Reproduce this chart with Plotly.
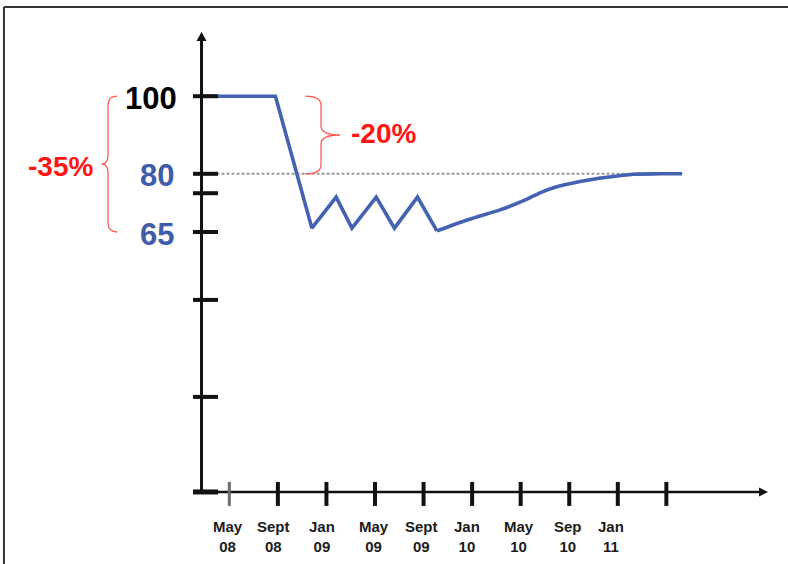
import plotly.graph_objects as go

# Index level over time, months counted from May 2008
months = [-2.2, 3.8, 6.8, 8.8, 10.1, 12.1, 13.6, 15.5, 17.1, 19.6, 22.3,
          24.2, 25.6, 26.7, 28.9, 31.1, 33.3, 35.5, 37.3]
index_values = [100, 100, 66, 74, 66, 74, 66, 74, 65.3, 68.1, 70.7,
                73.0, 75.1, 76.4, 78.0, 79.1, 79.9, 80, 80]
# the volatile phase is drawn with straight segments, the recovery smoothed
recovery_start = 8

x_tick_months = [0, 4, 8, 12, 16, 20, 24, 28, 32, 36]
x_tick_labels = ["May<br>08", "Sept<br>08", "Jan<br>09", "May<br>09", "Sept<br>09",
                 "Jan<br>10", "May<br>10", "Sep<br>10", "Jan<br>11", ""]

y_tick_values = [100, 80, 75, 65, 47.5, 22.5]
y_tick_labels = ["100", "80", "", "65", "", ""]

reference_level = 80
# (from, to, label) for the bracketed drops
drops = [(100, 65, "-35%"), (100, 80, "-20%")]

# ---- styling ----
W, H = 788, 564
X_RANGE = [-18.89, 46.02]
Y_RANGE = [-20.57, 124.8]
AXIS_X = -2.29      # month position of the vertical axis
AXIS_Y = -2.0       # index level of the horizontal axis
BLUE = "#4462B2"
LABEL_BLUE = "#3F5CAA"
RED = "#FF1414"
FONT = "Liberation Sans, Arial, sans-serif"

fig = go.Figure()

k = recovery_start
fig.add_trace(go.Scatter(
    x=months[:k + 1], y=index_values[:k + 1], mode="lines",
    line=dict(color=BLUE, width=3.6), hoverinfo="skip", showlegend=False,
))
fig.add_trace(go.Scatter(
    x=months[k:], y=index_values[k:], mode="lines",
    line=dict(color=BLUE, width=3.6, shape="spline", smoothing=0.8),
    hoverinfo="skip", showlegend=False,
))

shapes = []

# page frame (top and left edges)
shapes.append(dict(type="line", xref="paper", yref="paper", x0=0.005, x1=1, y0=1 - 7 / H, y1=1 - 7 / H,
                   line=dict(color="#333333", width=2)))
shapes.append(dict(type="line", xref="paper", yref="paper", x0=0.005, x1=0.005, y0=0, y1=1 - 7 / H,
                   line=dict(color="#333333", width=2)))

# dotted reference line at the recovery level
shapes.append(dict(type="line", xref="x", yref="y", x0=AXIS_X, x1=months[-1],
                   y0=reference_level, y1=reference_level, layer="below",
                   line=dict(color="#9a9a9a", width=2, dash="3px,2px")))

# axes
shapes.append(dict(type="line", xref="x", yref="y", x0=AXIS_X, x1=AXIS_X, y0=AXIS_Y, y1=116.0,
                   line=dict(color="#111111", width=3)))
shapes.append(dict(type="line", xref="x", yref="y", x0=-2.98, x1=43.8, y0=AXIS_Y, y1=AXIS_Y,
                   line=dict(color="#111111", width=2.6)))
# arrowheads
shapes.append(dict(type="path", xref="x", yref="y", xsizemode="pixel", ysizemode="pixel",
                   xanchor=AXIS_X, yanchor=Y_RANGE[1],
                   path="M0,-32 L5,-41 L-5,-41 Z", fillcolor="#111111", line=dict(width=0)))
shapes.append(dict(type="path", xref="x", yref="y", xsizemode="pixel", ysizemode="pixel",
                   xanchor=43.8, yanchor=AXIS_Y,
                   path="M7,0 L-2,4.5 L-2,-4.5 Z", fillcolor="#111111", line=dict(width=0)))

# y ticks crossing the axis, plus the stub at the origin
for v in y_tick_values + [AXIS_Y]:
    shapes.append(dict(type="line", xref="x", yref="y", xsizemode="pixel", xanchor=AXIS_X,
                       x0=-8.5, x1=16.5, y0=v, y1=v,
                       line=dict(color="#111111", width=5 if v == AXIS_Y else 4)))

# x ticks crossing the axis
for i, m in enumerate(x_tick_months):
    shapes.append(dict(type="line", xref="x", yref="y", ysizemode="pixel", yanchor=AXIS_Y,
                       x0=m, x1=m, y0=10, y1=-14,
                       line=dict(color="#6e6e6e" if i == 0 else "#111111", width=3 if i == 0 else 4)))


def brace(y_top, y_bot, x_end, x_mid, x_tip, r=2.3):
    ym = (y_top + y_bot) / 2
    return (f"M{x_end},{y_top} Q{x_mid},{y_top} {x_mid},{y_top - r} "
            f"L{x_mid},{ym + r} Q{x_mid},{ym} {x_tip},{ym} "
            f"Q{x_mid},{ym} {x_mid},{ym - r} "
            f"L{x_mid},{y_bot + r} Q{x_mid},{y_bot} {x_end},{y_bot}")


brace_geom = [(-84.5, -93.5, -100.0), (103.5, 119.5, 138.5)]
label_pos = [(-141.5, -2), (182.2, 1.5)]
annotations = []
for (top, bot, txt), (xe, xm, xt), (dx, dy) in zip(drops, brace_geom, label_pos):
    shapes.append(dict(type="path", xref="x", yref="y", xsizemode="pixel", xanchor=AXIS_X,
                       path=brace(top, bot, xe, xm, xt), line=dict(color="#FF5A5A", width=1.3)))
    annotations.append(dict(x=AXIS_X, y=(top + bot) / 2, xref="x", yref="y", text=txt,
                            showarrow=False, xshift=dx, yshift=dy, xanchor="center", yanchor="middle",
                            font=dict(family=FONT, size=28, color=RED, weight="bold")))

# y labels
for v, lab in zip(y_tick_values, y_tick_labels):
    if not lab:
        continue
    annotations.append(dict(x=AXIS_X, y=v, xref="x", yref="y", text=lab, showarrow=False,
                            xanchor="right", yanchor="middle",
                            xshift=-23 if lab == "100" else -26, yshift=-2,
                            font=dict(family=FONT, size=31,
                                      color="#000000" if lab == "100" else LABEL_BLUE,
                                      weight="bold")))

# x labels
x_label_shift = [-1.5, -4.6, -4, -1.3, -2.2, -4.8, -1.8, -1.5, -7.2, 0]
for m, lab, dx in zip(x_tick_months, x_tick_labels, x_label_shift):
    if not lab:
        continue
    annotations.append(dict(x=m, y=AXIS_Y, xref="x", yref="y", text=lab, showarrow=False,
                            xanchor="center", yanchor="top", xshift=dx, yshift=-24,
                            font=dict(family=FONT, size=15, color="#1c1c1c", weight="bold")))

fig.update_layout(
    width=W, height=H, margin=dict(l=0, r=0, t=0, b=0),
    paper_bgcolor="white", plot_bgcolor="white",
    xaxis=dict(range=X_RANGE, visible=False, fixedrange=True),
    yaxis=dict(range=Y_RANGE, visible=False, fixedrange=True),
    shapes=shapes, annotations=annotations, showlegend=False,
)

fig.write_html("out.html")
